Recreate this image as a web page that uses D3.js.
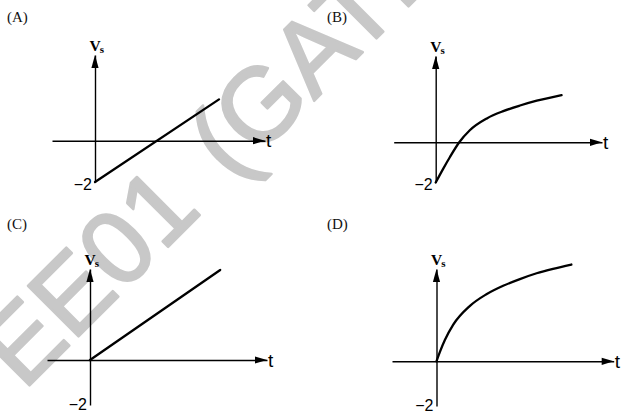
<!DOCTYPE html>
<html>
<head>
<meta charset="utf-8">
<script src="https://cdn.jsdelivr.net/npm/d3@7"></script>
<style>
  html, body { margin: 0; padding: 0; background: #ffffff; }
  svg { display: block; }
</style>
</head>
<body>
<script>
// ---------- data ----------
const panelLabels = ["(A)", "(B)", "(C)", "(D)"];
const tickLabelValue = [-2];
const axisNameX = "t";
const axisNameY = "V";
const axisNameYSub = "s";
const watermarkText = "EE01 (GATE";

// panel A : straight line from -2
const tA = [0, 4];
const vA = [-2, 2];
// panel B : rising curve from -2
const tB = [0, 0.24, 0.46, 0.76, 1.1, 1.65, 2.18, 2.72, 3.26, 4.06];
const vB = [-2, -1.32, -0.73, 0, 0.6, 1.19, 1.55, 1.83, 2.07, 2.35];
// panel C : straight line from 0
const tC = [0, 4.2];
const vC = [0, 4.0];
// panel D : rising curve from 0
const tD = [0, 0.11, 0.27, 0.54, 1.07, 1.61, 2.15, 2.69, 3.23, 3.76, 4.35];
const vD = [0, 0.42, 0.95, 1.64, 2.47, 3.0, 3.38, 3.68, 3.94, 4.14, 4.33];

const seriesT = [tA, tB, tC, tD];
const seriesV = [vA, vB, vC, vD];

// ---------- layout ----------
const W = 634, H = 416;
const layout = [
  { ox: 95,    oy: 140.7, xL: 52,    xR: 265,   yB: 182,   yT: 55,  lx: 7,   ly: 22  },
  { ox: 435.7, oy: 142.3, xL: 393.7, xR: 602,   yB: 182.5, yT: 56,  lx: 327, ly: 22  },
  { ox: 90,    oy: 360,   xL: 47,    xR: 267,   yB: 405,   yT: 269, lx: 7,   ly: 229 },
  { ox: 436.5, oy: 361.3, xL: 392,   xR: 613.7, yB: 406,   yT: 269, lx: 327, ly: 229 }
];
const pxPerT = 31;

const svg = d3.select("body").append("svg")
  .attr("width", W).attr("height", H)
  .attr("viewBox", `0 0 ${W} ${H}`);

svg.append("rect").attr("width", W).attr("height", H).attr("fill", "#ffffff");

// watermark
svg.append("text")
  .attr("transform", "translate(23.4,391.6) rotate(-45)")
  .attr("font-family", "'Liberation Sans', Arial, sans-serif")
  .attr("font-size", 104)
  .attr("word-spacing", 12)
  .attr("fill", "#c8c8c8")
  .attr("stroke", "#c8c8c8")
  .attr("stroke-width", 2.4)
  .attr("stroke-linejoin", "round")
  .text(watermarkText);

layout.forEach((L, i) => {
  const ky = (L.yB - L.oy) / 2;
  const x = d3.scaleLinear()
    .domain([(L.xL - L.ox) / pxPerT, (L.xR - L.ox) / pxPerT])
    .range([L.xL, L.xR]);
  const y = d3.scaleLinear()
    .domain([-2, (L.oy - L.yT) / ky])
    .range([L.yB, L.yT]);

  const g = svg.append("g");

  // panel label
  g.append("text")
    .attr("x", L.lx).attr("y", L.ly)
    .attr("font-family", "'Liberation Serif', 'Times New Roman', serif")
    .attr("font-size", 15)
    .attr("fill", "#111")
    .text(panelLabels[i]);

  // horizontal axis (t)
  const ax = g.append("g")
    .attr("transform", `translate(0,${y(0)})`)
    .call(d3.axisBottom(x).tickValues([]).tickSizeOuter(0));
  ax.select(".domain").attr("stroke", "#000").attr("stroke-width", 1.4);

  // vertical axis (Vs)
  const ay = g.append("g")
    .attr("transform", `translate(${x(0)},0)`)
    .call(d3.axisLeft(y).tickValues(tickLabelValue).tickFormat(d3.format("d"))
      .tickSize(0).tickSizeOuter(0).tickPadding(3));
  ay.select(".domain").attr("stroke", "#000").attr("stroke-width", 1.4);
  ay.selectAll(".tick text")
    .attr("font-family", "'Liberation Sans', Arial, sans-serif")
    .attr("font-size", 16)
    .attr("fill", "#000")
    .attr("dy", i < 2 ? "0.45em" : "0.3em");

  // arrowheads
  const xt = x.range()[1], y0 = y(0);
  g.append("path")
    .attr("d", `M${xt},${y0} L${xt - 12},${y0 - 3.6} L${xt - 12},${y0 + 3.6} Z`)
    .attr("fill", "#000");
  const yt = y.range()[1], x0 = x(0);
  g.append("path")
    .attr("d", `M${x0},${yt} L${x0 - 3.6},${yt + 13} L${x0 + 3.6},${yt + 13} Z`)
    .attr("fill", "#000");

  // axis names
  g.append("text")
    .attr("x", xt + 1).attr("y", y0 + 6.5)
    .attr("font-family", "'Liberation Sans', Arial, sans-serif")
    .attr("font-size", 19)
    .attr("fill", "#000")
    .text(axisNameX);

  const vs = g.append("text")
    .attr("x", x0 - 5.5).attr("y", yt - 4)
    .attr("font-family", "'Liberation Serif', 'Times New Roman', serif")
    .attr("font-weight", "bold")
    .attr("font-size", 15.5)
    .attr("fill", "#000");
  vs.append("tspan").text(axisNameY);
  vs.append("tspan").attr("font-size", 11).attr("dx", -1).attr("dy", 1.5).text(axisNameYSub);

  // the series
  const pts = seriesT[i].map((t, k) => [t, seriesV[i][k]]);
  const line = d3.line()
    .x(d => x(d[0])).y(d => y(d[1]))
    .curve(pts.length > 2 ? d3.curveMonotoneX : d3.curveLinear);
  g.append("path")
    .datum(pts)
    .attr("d", line)
    .attr("fill", "none")
    .attr("stroke", "#000")
    .attr("stroke-width", 2.3)
    .attr("stroke-linecap", "round");
});
</script>
</body>
</html>
